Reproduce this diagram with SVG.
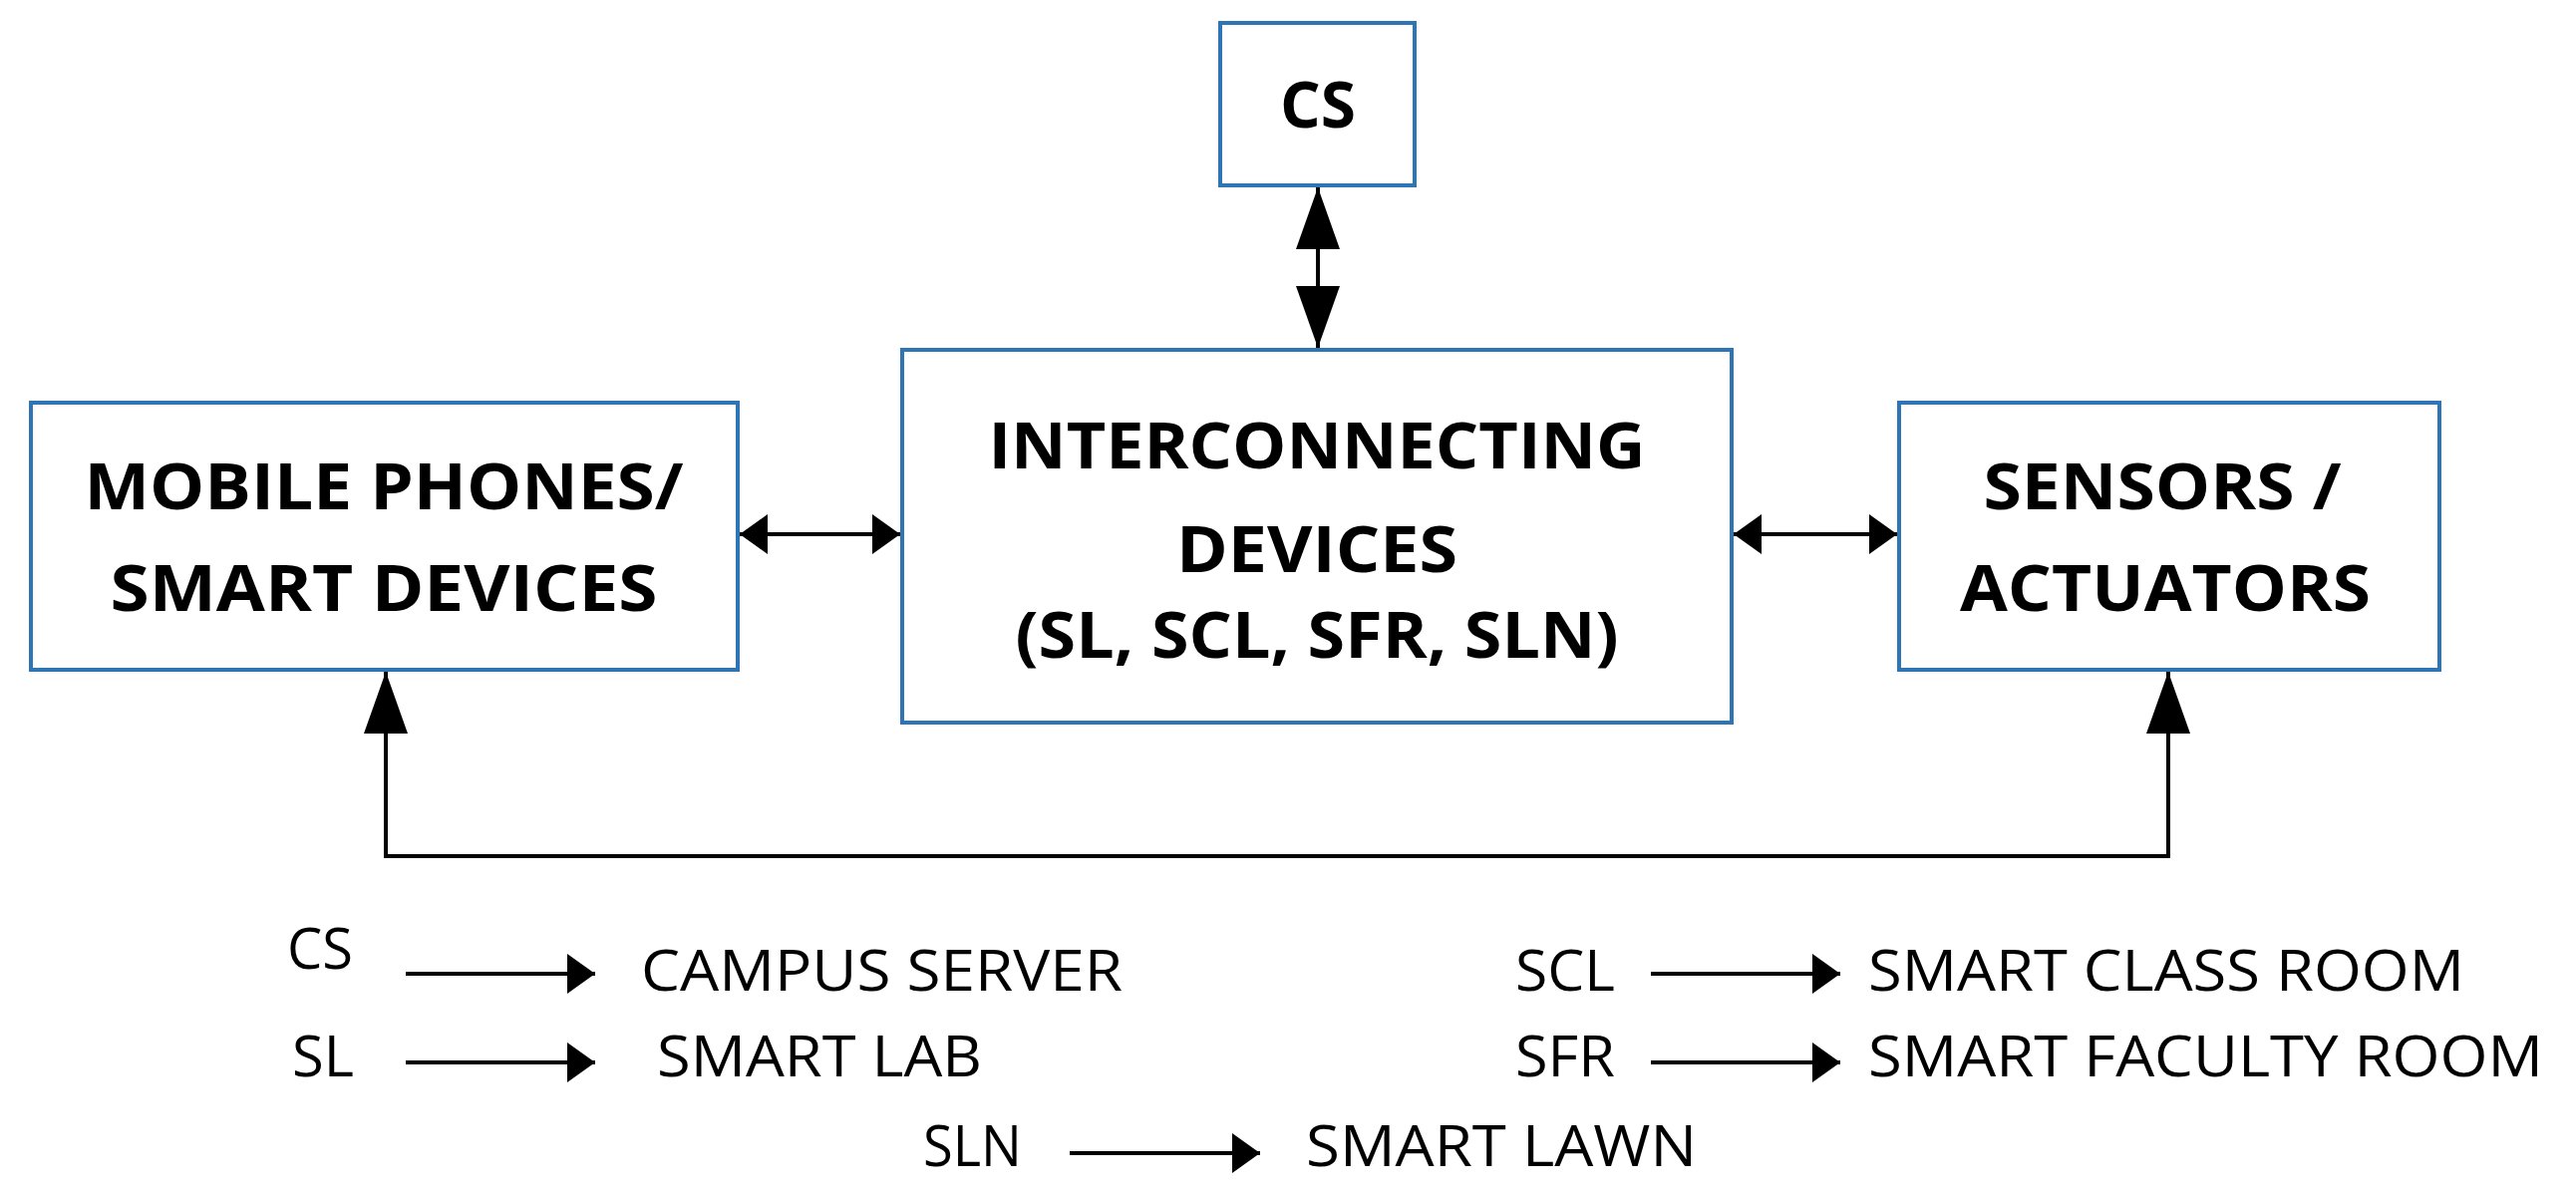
<svg xmlns="http://www.w3.org/2000/svg" width="2584" height="1197" viewBox="0 0 2584 1197">
<style>
.box{fill:#fff;stroke:#2E75B6;stroke-width:4}
.bt{font-family:"Open Sans","DejaVu Sans",sans-serif;font-weight:bold;font-size:64px;fill:#000;text-anchor:middle}
.lt{font-family:"Open Sans","DejaVu Sans",sans-serif;font-size:56px;fill:#000}
.ln{stroke:#000;stroke-width:4;fill:none}
</style>
<defs>
<marker id="big" markerUnits="userSpaceOnUse" markerWidth="64" markerHeight="44" refX="62" refY="22" orient="auto-start-reverse"><path d="M0,0 L62,22 L0,44 Z"/></marker>
<marker id="sm" markerUnits="userSpaceOnUse" markerWidth="30" markerHeight="40" refX="28" refY="20" orient="auto-start-reverse"><path d="M0,0 L28,20 L0,40 Z"/></marker>
</defs>
<g id="connectors">
<line class="ln" x1="1322" y1="188" x2="1322" y2="349" marker-start="url(#big)" marker-end="url(#big)"/>
<line class="ln" x1="742" y1="536" x2="903" y2="536" marker-start="url(#sm)" marker-end="url(#sm)"/>
<line class="ln" x1="1739" y1="536" x2="1903" y2="536" marker-start="url(#sm)" marker-end="url(#sm)"/>
<polyline class="ln" points="387,674 387,859 2175,859 2175,674" marker-start="url(#big)" marker-end="url(#big)"/>
<line class="ln" x1="407" y1="977" x2="597" y2="977" marker-end="url(#sm)"/>
<line class="ln" x1="407" y1="1066" x2="597" y2="1066" marker-end="url(#sm)"/>
<line class="ln" x1="1656" y1="977" x2="1846" y2="977" marker-end="url(#sm)"/>
<line class="ln" x1="1656" y1="1066" x2="1846" y2="1066" marker-end="url(#sm)"/>
<line class="ln" x1="1073" y1="1157" x2="1264" y2="1157" marker-end="url(#sm)"/>
</g>
<g id="cs"><rect class="box" x="1224" y="23" width="195" height="163"/><text class="bt" x="1322" y="128" textLength="76" lengthAdjust="spacingAndGlyphs">CS</text></g>
<g id="inter"><rect class="box" x="905" y="351" width="832" height="374"/>
<text class="bt" x="1321" y="470" textLength="659" lengthAdjust="spacingAndGlyphs">INTERCONNECTING</text>
<text class="bt" x="1321" y="574" textLength="282" lengthAdjust="spacingAndGlyphs">DEVICES</text>
<text class="bt" x="1321" y="660" textLength="605" lengthAdjust="spacingAndGlyphs">(SL, SCL, SFR, SLN)</text></g>
<g id="mobile"><rect class="box" x="31" y="404" width="709" height="268"/>
<text class="bt" x="385" y="511" textLength="601" lengthAdjust="spacingAndGlyphs">MOBILE PHONES/</text>
<text class="bt" x="385" y="613" textLength="549" lengthAdjust="spacingAndGlyphs">SMART DEVICES</text></g>
<g id="sensors"><rect class="box" x="1905" y="404" width="542" height="268"/>
<text class="bt" x="2169" y="511" textLength="359" lengthAdjust="spacingAndGlyphs">SENSORS /</text>
<text class="bt" x="2172" y="613" textLength="412" lengthAdjust="spacingAndGlyphs">ACTUATORS</text></g>
<g id="legend">
<text class="lt" x="288" y="972" textLength="66" lengthAdjust="spacingAndGlyphs">CS</text>
<text class="lt" x="643" y="994" textLength="483" lengthAdjust="spacingAndGlyphs">CAMPUS SERVER</text>
<text class="lt" x="293" y="1080" textLength="62" lengthAdjust="spacingAndGlyphs">SL</text>
<text class="lt" x="659" y="1080" textLength="326" lengthAdjust="spacingAndGlyphs">SMART LAB</text>
<text class="lt" x="1520" y="994" textLength="100" lengthAdjust="spacingAndGlyphs">SCL</text>
<text class="lt" x="1874" y="994" textLength="598" lengthAdjust="spacingAndGlyphs">SMART CLASS ROOM</text>
<text class="lt" x="1520" y="1080" textLength="100" lengthAdjust="spacingAndGlyphs">SFR</text>
<text class="lt" x="1874" y="1080" textLength="677" lengthAdjust="spacingAndGlyphs">SMART FACULTY ROOM</text>
<text class="lt" x="926" y="1170" textLength="99" lengthAdjust="spacingAndGlyphs">SLN</text>
<text class="lt" x="1310" y="1170" textLength="392" lengthAdjust="spacingAndGlyphs">SMART LAWN</text>
</g>
</svg>
